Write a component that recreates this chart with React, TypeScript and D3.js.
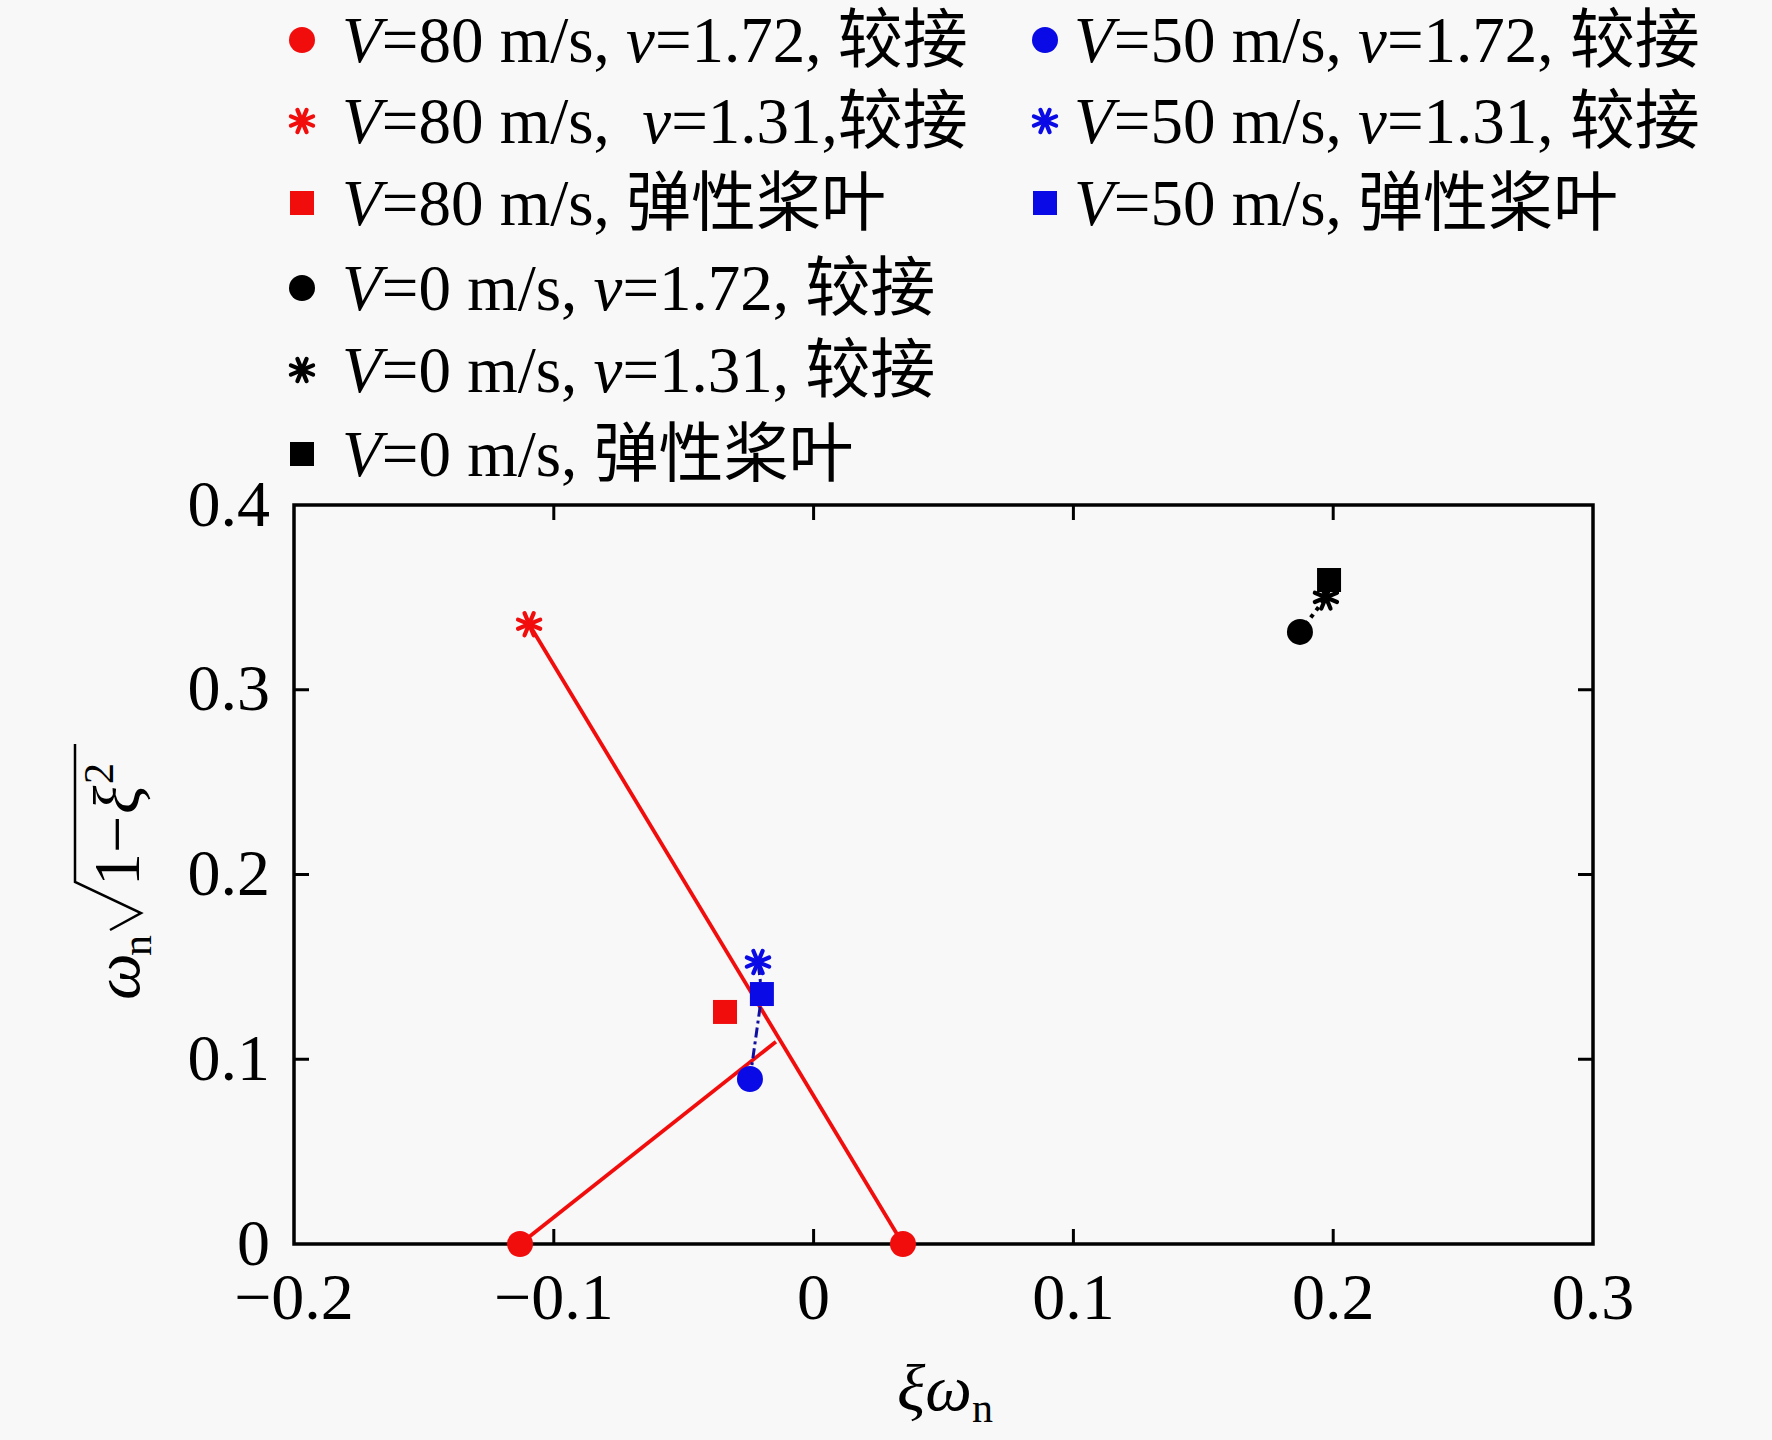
import * as d3 from 'd3';

// tick values
const xTicks = [-0.2, -0.1, 0, 0.1, 0.2, 0.3];
const yTicks = [0, 0.1, 0.2, 0.3, 0.4];

// points [ξω_n, ω_n√(1−ξ²)]
const v80Hinge172: [number, number][] = [[-0.113, 0], [0.0344, 0]];
const v80Hinge131: [number, number][] = [[-0.1095, 0.3355]];
const v80Elastic: [number, number][] = [[-0.0341, 0.1256]];
const v50Hinge172: [number, number][] = [[-0.0245, 0.0893]];
const v50Hinge131: [number, number][] = [[-0.0214, 0.1526]];
const v50Elastic: [number, number][] = [[-0.0199, 0.1353]];
const v0Hinge172: [number, number][] = [[0.1872, 0.3313]];
const v0Hinge131: [number, number][] = [[0.1972, 0.35]];
const v0Elastic: [number, number][] = [[0.1984, 0.3594]];

// connecting lines
const redLineA: [number, number][] = [[-0.1095, 0.3355], [0.0344, 0]];
const redLineB: [number, number][] = [[-0.113, 0], [-0.0145, 0.1095]];
const blueLine: [number, number][] = [[-0.0245, 0.0893], [-0.0199, 0.1353], [-0.0214, 0.1526]];
const blackLine: [number, number][] = [[0.1872, 0.3313], [0.1972, 0.35], [0.1984, 0.3594]];

const legendCol1 = [
  'V=80 m/s, v=1.72, 较接',
  'V=80 m/s,  v=1.31,较接',
  'V=80 m/s, 弹性桨叶',
  'V=0 m/s, v=1.72, 较接',
  'V=0 m/s, v=1.31, 较接',
  'V=0 m/s, 弹性桨叶',
];
const legendCol2 = [
  'V=50 m/s, v=1.72, 较接',
  'V=50 m/s, v=1.31, 较接',
  'V=50 m/s, 弹性桨叶',
];

const RED = '#f20d0d';
const BLUE = '#0a0ae6';
const BLACK = '#000';

type Shape = 'circle' | 'star' | 'square';

const FONT = "'Liberation Serif', 'Times New Roman', 'Noto Sans CJK SC', serif";

function Marker({ shape, color, cx, cy }: { shape: Shape; color: string; cx: number; cy: number }) {
  if (shape === 'circle') return <circle cx={cx} cy={cy} r={13} fill={color} />;
  if (shape === 'square') return <rect x={cx - 12} y={cy - 12} width={24} height={24} fill={color} />;
  const r = 12;
  return (
    <g stroke={color} strokeWidth={4.2} strokeLinecap="round">
      {[0, 45, 90, 135].map((a) => {
        const rad = ((a + 22.5) * Math.PI) / 180;
        return (
          <line
            key={a}
            x1={cx - r * Math.cos(rad)}
            y1={cy - r * Math.sin(rad)}
            x2={cx + r * Math.cos(rad)}
            y2={cy + r * Math.sin(rad)}
          />
        );
      })}
    </g>
  );
}

function LegendText({ label, x, y }: { label: string; x: number; y: number }) {
  const parts = label.split(/([Vv])(?==)/);
  return (
    <text x={x} y={y} fontSize={65} fontFamily={FONT} dominantBaseline="central" xmlSpace="preserve">
      {parts.map((p, i) => (
        <tspan key={i} fontStyle={p === 'V' || p === 'v' ? 'italic' : 'normal'}>
          {p}
        </tspan>
      ))}
    </text>
  );
}

export default function App() {
  const W = 1772;
  const H = 1440;
  const margin = { left: 294, right: 179, top: 505, bottom: 196 };
  const innerW = W - margin.left - margin.right;
  const innerH = H - margin.top - margin.bottom;

  const x = d3.scaleLinear().domain([-0.2, 0.3]).range([margin.left, margin.left + innerW]);
  const y = d3.scaleLinear().domain([0, 0.4]).range([margin.top + innerH, margin.top]);
  const line = d3
    .line<[number, number]>()
    .x((d) => x(d[0]))
    .y((d) => y(d[1]));

  const fmt = (d: number) => (d === 0 ? '0' : d3.format('.1f')(d));
  const tick = 15;

  const series: { pts: [number, number][]; shape: Shape; color: string }[] = [
    { pts: v80Hinge172, shape: 'circle', color: RED },
    { pts: v80Hinge131, shape: 'star', color: RED },
    { pts: v80Elastic, shape: 'square', color: RED },
    { pts: v50Hinge172, shape: 'circle', color: BLUE },
    { pts: v50Hinge131, shape: 'star', color: BLUE },
    { pts: v50Elastic, shape: 'square', color: BLUE },
    { pts: v0Hinge172, shape: 'circle', color: BLACK },
    { pts: v0Hinge131, shape: 'star', color: BLACK },
    { pts: v0Elastic, shape: 'square', color: BLACK },
  ];
  const col1Styles: [Shape, string][] = [
    ['circle', RED],
    ['star', RED],
    ['square', RED],
    ['circle', BLACK],
    ['star', BLACK],
    ['square', BLACK],
  ];
  const col2Styles: [Shape, string][] = [
    ['circle', BLUE],
    ['star', BLUE],
    ['square', BLUE],
  ];
  const rowY = [40, 121, 203, 288, 370, 454];

  const x0 = margin.left;
  const x1 = margin.left + innerW;
  const y0 = margin.top + innerH;
  const y1 = margin.top;

  return (
    <svg
      width={W}
      height={H}
      style={{ position: 'absolute', left: 0, top: 0, background: '#f8f8f8' }}
      fontFamily={FONT}
    >
      {/* legend */}
      {legendCol1.map((l, i) => (
        <g key={'l1' + i}>
          <Marker shape={col1Styles[i][0]} color={col1Styles[i][1]} cx={302} cy={rowY[i]} />
          <LegendText label={l} x={342} y={rowY[i]} />
        </g>
      ))}
      {legendCol2.map((l, i) => (
        <g key={'l2' + i}>
          <Marker shape={col2Styles[i][0]} color={col2Styles[i][1]} cx={1045} cy={rowY[i]} />
          <LegendText label={l} x={1074} y={rowY[i]} />
        </g>
      ))}

      {/* ticks, inward on all four sides */}
      <g stroke="#000" strokeWidth={3}>
        {xTicks.slice(1, -1).map((t) => (
          <g key={'xt' + t}>
            <line x1={x(t)} x2={x(t)} y1={y0} y2={y0 - tick} />
            <line x1={x(t)} x2={x(t)} y1={y1} y2={y1 + tick} />
          </g>
        ))}
        {yTicks.slice(1, -1).map((t) => (
          <g key={'yt' + t}>
            <line x1={x0} x2={x0 + tick} y1={y(t)} y2={y(t)} />
            <line x1={x1} x2={x1 - tick} y1={y(t)} y2={y(t)} />
          </g>
        ))}
      </g>

      {/* tick labels */}
      {xTicks.map((t) => (
        <text key={'xl' + t} x={x(t)} y={y0 + 75} fontSize={66} textAnchor="middle">
          {fmt(t)}
        </text>
      ))}
      {yTicks.map((t) => (
        <text key={'yl' + t} x={x0 - 24} y={y(t) - 2} fontSize={66} textAnchor="end" dominantBaseline="central">
          {fmt(t)}
        </text>
      ))}

      {/* lines */}
      <path d={line(redLineA) || ''} fill="none" stroke={RED} strokeWidth={3.8} />
      <path d={line(redLineB) || ''} fill="none" stroke={RED} strokeWidth={3.8} />
      <path d={line(blueLine) || ''} fill="none" stroke="#1010a0" strokeWidth={3} strokeDasharray="10,4,3,4" />
      <path d={line(blackLine) || ''} fill="none" stroke={BLACK} strokeWidth={4} strokeDasharray="4,5" />

      {/* frame */}
      <rect x={x0} y={y1} width={innerW} height={innerH} fill="none" stroke="#000" strokeWidth={3.5} />

      {/* markers */}
      {series.map((s, i) =>
        s.pts.map((p, j) => <Marker key={i + '-' + j} shape={s.shape} color={s.color} cx={x(p[0])} cy={y(p[1])} />),
      )}

      {/* x axis title: ξω_n */}
      <text x={945} y={1410} fontSize={66} textAnchor="middle">
        <tspan fontStyle="italic">ξω</tspan>
        <tspan fontSize={42} dy={12}>n</tspan>
      </text>

      {/* y axis title: ω_n √(1−ξ²) */}
      <g transform="translate(139,1000) rotate(-90)">
        <text fontSize={66}>
          <tspan x={0} y={0} fontStyle="italic">ω</tspan>
          <tspan x={44} y={12} fontSize={42}>n</tspan>
          <tspan x={114} y={0}>1−</tspan>
          <tspan x={186} y={0} fontStyle="italic">ξ</tspan>
          <tspan x={216} y={-26} fontSize={42}>2</tspan>
        </text>
        <path d="M70,-29 L87,2 L118,-64 L256,-64" fill="none" stroke="#000" strokeWidth={2.5} />
      </g>
    </svg>
  );
}
